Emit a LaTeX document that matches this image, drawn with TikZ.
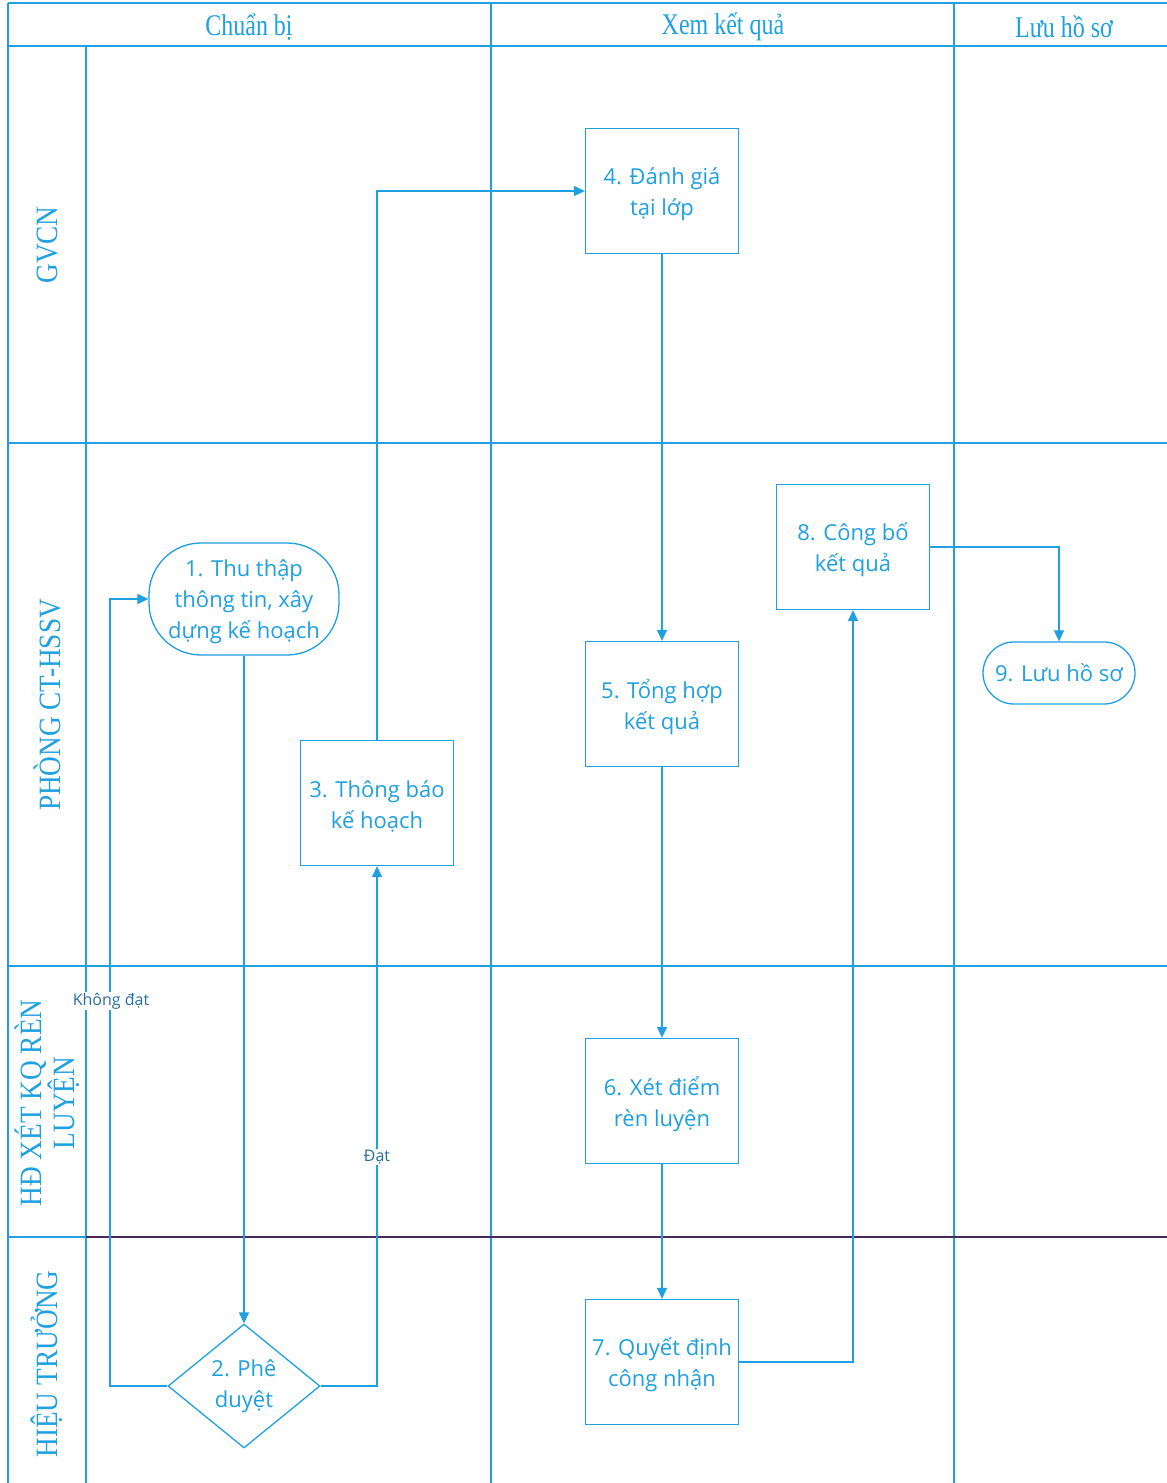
\documentclass[tikz,border=0pt]{standalone}
\usepackage{fontspec}
\usetikzlibrary{shapes.geometric,arrows.meta,calc}
\newfontfamily\hdrfont[FakeStretch=0.8]{Liberation Serif}
\newfontfamily\lanefont[FakeStretch=0.88]{Liberation Serif}
\newfontfamily\boxfont{Open Sans}
\definecolor{lblue}{RGB}{30,160,225}
\definecolor{lpurple}{RGB}{70,40,90}
\definecolor{lbltxt}{RGB}{40,110,160}
\newcommand{\boxtxt}[2][150pt]{\parbox{#1}{\centering\vspace*{6pt}#2}}
\begin{document}
\begin{tikzpicture}[x=1pt,y=-1pt,
  lane/.style={draw=lblue,line width=1.8pt},
  hdr/.style={text=lblue,font=\hdrfont\fontsize{30}{32}\selectfont,inner sep=0},
  lanelbl/.style={text=lblue,font=\lanefont\fontsize{31}{30}\selectfont,inner sep=0,rotate=90,align=center},
  stepbox/.style={draw=lblue,line width=1.3pt,text=lblue,font=\boxfont\fontsize{22}{31}\selectfont,align=center,inner sep=0,minimum width=153pt,minimum height=125pt},
  termbox/.style={draw=lblue,line width=1.3pt,text=lblue,font=\boxfont\fontsize{22}{31}\selectfont,align=center,inner sep=0},
  decbox/.style={draw=lblue,line width=1.3pt,text=lblue,font=\boxfont\fontsize{22}{31}\selectfont,align=center,diamond,inner sep=0,minimum width=152pt,minimum height=124pt},
  arr/.style={draw=lblue,line width=1.3pt,-{Triangle[length=11pt,width=10pt]}},
  elabel/.style={fill=white,text=lbltxt,font=\boxfont\fontsize{16}{18}\selectfont,inner sep=1pt}
]
\useasboundingbox (0,0) rectangle (1167,1483);
\fill[white] (0,0) rectangle (1167,1483);
% frame
\draw[lane] (8,3) -- (1167,3);
\draw[lane] (8,46) -- (1167,46);
\draw[lane] (8,3) -- (8,1483);
\draw[lane] (86,46) -- (86,1483);
\draw[lane] (491,3) -- (491,1483);
\draw[lane] (954,3) -- (954,1483);
\draw[lane] (8,443) -- (1167,443);
\draw[lane] (8,966) -- (1167,966);
\draw[lane] (8,1237) -- (86,1237);
\draw[draw=lpurple,line width=1.8pt] (86,1237) -- (1167,1237);
% headers
\node[hdr] (h1) at (249,27) {Chuẩn bị};
\node[hdr] (h2) at (723,27) {Xem kết quả};
\node[hdr] (h3) at (1064,27) {Lưu hồ sơ};
% lane labels
\node[lanelbl] (l1) at (47,245) {GVCN};
\node[lanelbl] (l2) at (47,705) {PHÒNG CT-HSSV};
\node[lanelbl] (l3) at (47,1103) {HĐ XÉT KQ RÈN\\LUYỆN};
\node[lanelbl] (l4) at (47,1364) {HIỆU TRƯỞNG};
% nodes
\node[termbox,minimum width=190pt,minimum height=112pt,rounded corners=52pt] (n1) at (244,599) {\boxtxt[180pt]{1. Thu thập\\thông tin, xây\\dựng kế hoạch}};
\node[decbox] (n2) at (244,1386) {2. Phê\\duyệt};
\node[stepbox] (n3) at (377,803) {\boxtxt{3. Thông báo\\kế hoạch}};
\node[stepbox] (n4) at (662,191) {\boxtxt{4. Đánh giá\\tại lớp}};
\node[stepbox] (n5) at (662,704) {\boxtxt{5. Tổng hợp\\kết quả}};
\node[stepbox] (n6) at (662,1101) {\boxtxt{6. Xét điểm\\rèn luyện}};
\node[stepbox] (n7) at (662,1362) {\boxtxt{7. Quyết định\\công nhận}};
\node[stepbox] (n8) at (853,547) {\boxtxt{8. Công bố\\kết quả}};
\node[termbox,minimum width=152pt,minimum height=62pt,rounded corners=31pt] (n9) at (1059,673) {9. Lưu hồ sơ};
% connectors
\coordinate (kd) at (110,599);
\draw[arr] (n1.south) -- (n2.north);
\draw[arr] (n2.west) -| (kd) -- (n1.west);
\node[elabel] (lk) at (111,1001) {Không đạt};
\draw[arr] (n2.east) -| (n3.south);
\node[elabel] (ld) at (377,1157) {Đạt};
\draw[arr] (n3.north) |- (n4.west);
\draw[arr] (n4.south) -- (n5.north);
\draw[arr] (n5.south) -- (n6.north);
\draw[arr] (n6.south) -- (n7.north);
\draw[arr] (n7.east) -| (n8.south);
\draw[arr] (n8.east) -| (n9.north);
\end{tikzpicture}
\end{document}
